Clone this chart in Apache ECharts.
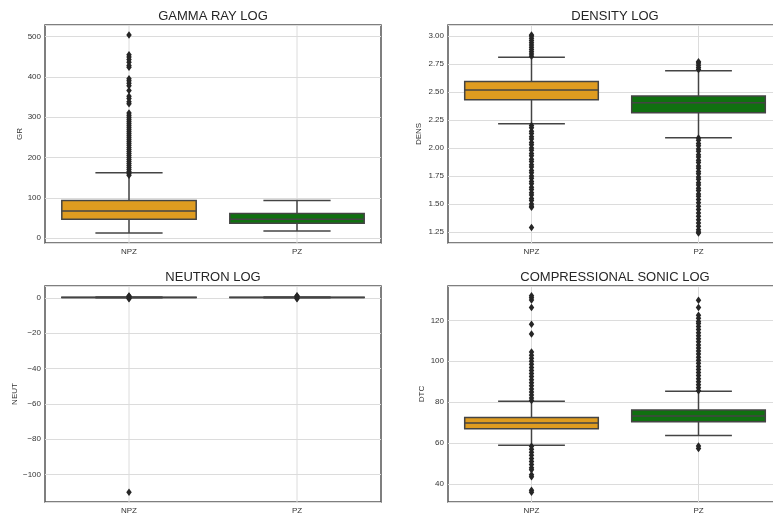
<!DOCTYPE html>
<html>
<head>
<meta charset="utf-8">
<script src="https://cdn.jsdelivr.net/npm/echarts@6/dist/echarts.min.js"></script>
<style>
  html, body { margin: 0; padding: 0; background: #fff; overflow: hidden; }
  #chart { width: 790px; height: 515px; }
</style>
</head>
<body>
<div id="chart"></div>
<script>
// Zone categories shared by every panel
const zones = ['NPZ', 'PZ'];

// Box statistics per zone: [lower whisker, Q1, median, Q3, upper whisker]
const grBoxes = [[12.4, 46.5, 67, 93.5, 162], [17.4, 36.6, 46.5, 60.7, 93.5]];
const densBoxes = [[2.216, 2.432, 2.518, 2.595, 2.811], [2.092, 2.314, 2.403, 2.465, 2.69]];
const neutBoxes = [[-0.05, 0.12, 0.2, 0.28, 0.5], [-0.05, 0.1, 0.18, 0.26, 0.48]];
const dtcBoxes = [[58.9, 67.0, 69.8, 72.5, 80.5], [63.7, 70.4, 73.3, 76.2, 85.3]];

// Outlying samples per zone
const grNpzOut = [504, 455, 449, 443, 436, 428, 424, 395, 390, 384, 378, 366, 352, 346, 338, 333,
  310, 305, 300, 295, 290, 285, 280, 275, 270, 265, 260, 255, 250, 245, 240, 235, 230, 225,
  220, 215, 210, 205, 200, 195, 190, 185, 180, 175, 170, 165, 160, 156];
const grPzOut = [];
const densNpzOut = [2.82, 2.84, 2.86, 2.88, 2.90, 2.92, 2.94, 2.96, 2.98, 3.00, 3.01,
  2.20, 2.18, 2.15, 2.13, 2.10, 2.08, 2.05, 2.03, 2.00, 1.98, 1.95, 1.93, 1.90, 1.88, 1.85,
  1.83, 1.80, 1.78, 1.75, 1.73, 1.70, 1.68, 1.65, 1.63, 1.60, 1.58, 1.55, 1.53, 1.50, 1.48,
  1.47, 1.29];
const densPzOut = [2.70, 2.72, 2.74, 2.76, 2.77,
  2.09, 2.07, 2.04, 2.02, 1.99, 1.97, 1.94, 1.92, 1.89, 1.87, 1.84, 1.82, 1.79, 1.77, 1.74,
  1.72, 1.69, 1.67, 1.64, 1.62, 1.59, 1.57, 1.54, 1.51, 1.48, 1.45, 1.42, 1.39, 1.36, 1.33,
  1.30, 1.27, 1.25, 1.24];
const neutNpzOut = [1.0, 0.8, 0.6, -0.3, -0.6, -110];
const neutPzOut = [1.1, 0.8, 0.6, -0.3, -0.6];
const dtcNpzOut = [80.8, 82, 83.5, 85, 86.5, 88, 89.5, 91, 92.5, 94, 95.5, 97, 98.5, 100,
  101.5, 103, 104.5, 113.3, 118.1, 126.3, 130, 131, 132,
  58.4, 57, 55.5, 54, 52.5, 51, 49.5, 48, 47, 44.5, 43.5, 37, 36];
const dtcPzOut = [85.6, 87, 88.5, 90, 91.5, 93, 94.5, 96, 97.5, 99, 100.5, 102, 103.5, 105,
  106.5, 108, 109.5, 111, 112.5, 114, 115.5, 117, 118.5, 119.5, 121, 122.5, 126.3, 129.8,
  58.6, 57.4];

// Panel titles, axis names and tick steps
const titles = ['GAMMA RAY LOG', 'DENSITY LOG', 'NEUTRON LOG', 'COMPRESSIONAL SONIC LOG'];
const yNames = ['GR', 'DENS', 'NEUT', 'DTC'];
const tickSteps = [100, 0.25, 20, 20];
const tickDecimals = [0, 2, 0, 0];

const boxes = [grBoxes, densBoxes, neutBoxes, dtcBoxes];
const outliers = [[grNpzOut, grPzOut], [densNpzOut, densPzOut], [neutNpzOut, neutPzOut], [dtcNpzOut, dtcPzOut]];

const zoneColors = ['#df9c20', '#107010'];
const edgeColor = '#444444';
const gridColor = '#dcdcdc';
const font = '"Liberation Sans", Arial, sans-serif';

// Plot areas: left column / right column, top row / bottom row
const grids = [
  { left: 45, top: 25, width: 336, height: 218 },
  { left: 448, top: 25, width: 334, height: 218 },
  { left: 45, top: 286, width: 336, height: 217 },
  { left: 448, top: 286, width: 334, height: 217 }
];
const nameGaps = [20, 25, 25, 22];

function boxRenderer(params, api) {
  const c = api.value(0);
  const lo = api.coord([c, api.value(1)]);
  const q1 = api.coord([c, api.value(2)]);
  const md = api.coord([c, api.value(3)]);
  const q3 = api.coord([c, api.value(4)]);
  const hi = api.coord([c, api.value(5)]);
  const band = api.size([1, 0])[0];
  const bw = band * 0.8;
  const cw = bw * 0.5;
  const x = md[0];
  const cs = params.coordSys;
  const lineStyle = { stroke: edgeColor, lineWidth: 1.5 };
  return {
    type: 'group',
    children: [
      { type: 'line', shape: { x1: x, y1: cs.y, x2: x, y2: cs.y + cs.height }, style: { stroke: gridColor, lineWidth: 1 } },
      { type: 'line', shape: { x1: x, y1: q1[1], x2: x, y2: lo[1] }, style: lineStyle },
      { type: 'line', shape: { x1: x, y1: q3[1], x2: x, y2: hi[1] }, style: lineStyle },
      { type: 'line', shape: { x1: x - cw / 2, y1: lo[1], x2: x + cw / 2, y2: lo[1] }, style: lineStyle },
      { type: 'line', shape: { x1: x - cw / 2, y1: hi[1], x2: x + cw / 2, y2: hi[1] }, style: lineStyle },
      { type: 'rect', shape: { x: x - bw / 2, y: q3[1], width: bw, height: q1[1] - q3[1] },
        style: { fill: zoneColors[c], stroke: edgeColor, lineWidth: 1.5 } },
      { type: 'line', shape: { x1: x - bw / 2, y1: md[1], x2: x + bw / 2, y2: md[1] }, style: lineStyle }
    ]
  };
}

const option = {
  animation: false,
  backgroundColor: '#ffffff',
  title: [], grid: [], xAxis: [], yAxis: [], series: []
};

const titleCenters = [213, 615, 213, 615];
const titleTops = [10, 10, 271, 271];

for (let i = 0; i < 4; i++) {
  const all = [];
  boxes[i].forEach(b => all.push(...b));
  outliers[i].forEach(o => all.push(...o));
  const dMin = Math.min(...all), dMax = Math.max(...all);
  const pad = (dMax - dMin) * 0.05;

  option.title.push({
    text: titles[i], left: titleCenters[i], top: titleTops[i], textAlign: 'center', padding: 0,
    textStyle: { fontFamily: font, fontSize: 13, fontWeight: 'normal', color: '#262626' }
  });
  option.grid.push(Object.assign({
    show: true, borderColor: '#555555', borderWidth: 1.5, backgroundColor: '#ffffff', containLabel: false
  }, grids[i]));
  option.xAxis.push({
    gridIndex: i, type: 'category', data: zones,
    axisLine: { show: false }, axisTick: { show: false }, splitLine: { show: false },
    axisLabel: { fontFamily: font, fontSize: 8, color: '#333333', margin: 5 }
  });
  const dec = tickDecimals[i];
  option.yAxis.push({
    gridIndex: i, type: 'value', min: dMin - pad, max: dMax + pad,
    minInterval: tickSteps[i], maxInterval: tickSteps[i],
    name: yNames[i], nameLocation: 'middle', nameRotate: 90, nameGap: nameGaps[i],
    nameTextStyle: { fontFamily: font, fontSize: 8, color: '#333333' },
    axisLine: { show: false }, axisTick: { show: false },
    splitLine: { show: true, lineStyle: { color: gridColor, width: 1 } },
    axisLabel: {
      fontFamily: font, fontSize: 8, color: '#333333', margin: 4,
      showMinLabel: false, showMaxLabel: false,
      formatter: v => {
        const r = Math.round(v / tickSteps[i]) * tickSteps[i];
        if (Math.abs(r - v) > tickSteps[i] * 1e-6) return '';
        return r.toFixed(dec).replace('-', '\u2212');
      }
    }
  });
  option.series.push({
    type: 'custom', xAxisIndex: i, yAxisIndex: i, z: 2,
    renderItem: boxRenderer,
    data: boxes[i].map((b, c) => [c].concat(b))
  });
  const pts = [];
  outliers[i].forEach((list, c) => list.forEach(v => pts.push([c, v])));
  option.series.push({
    type: 'scatter', xAxisIndex: i, yAxisIndex: i, z: 3,
    symbol: 'diamond', symbolSize: [5.5, 7.5],
    itemStyle: { color: '#262626', opacity: 1 },
    data: pts
  });
}

const chart = echarts.init(document.getElementById('chart'), null, { renderer: 'canvas' });
chart.setOption(option);
</script>
</body>
</html>
